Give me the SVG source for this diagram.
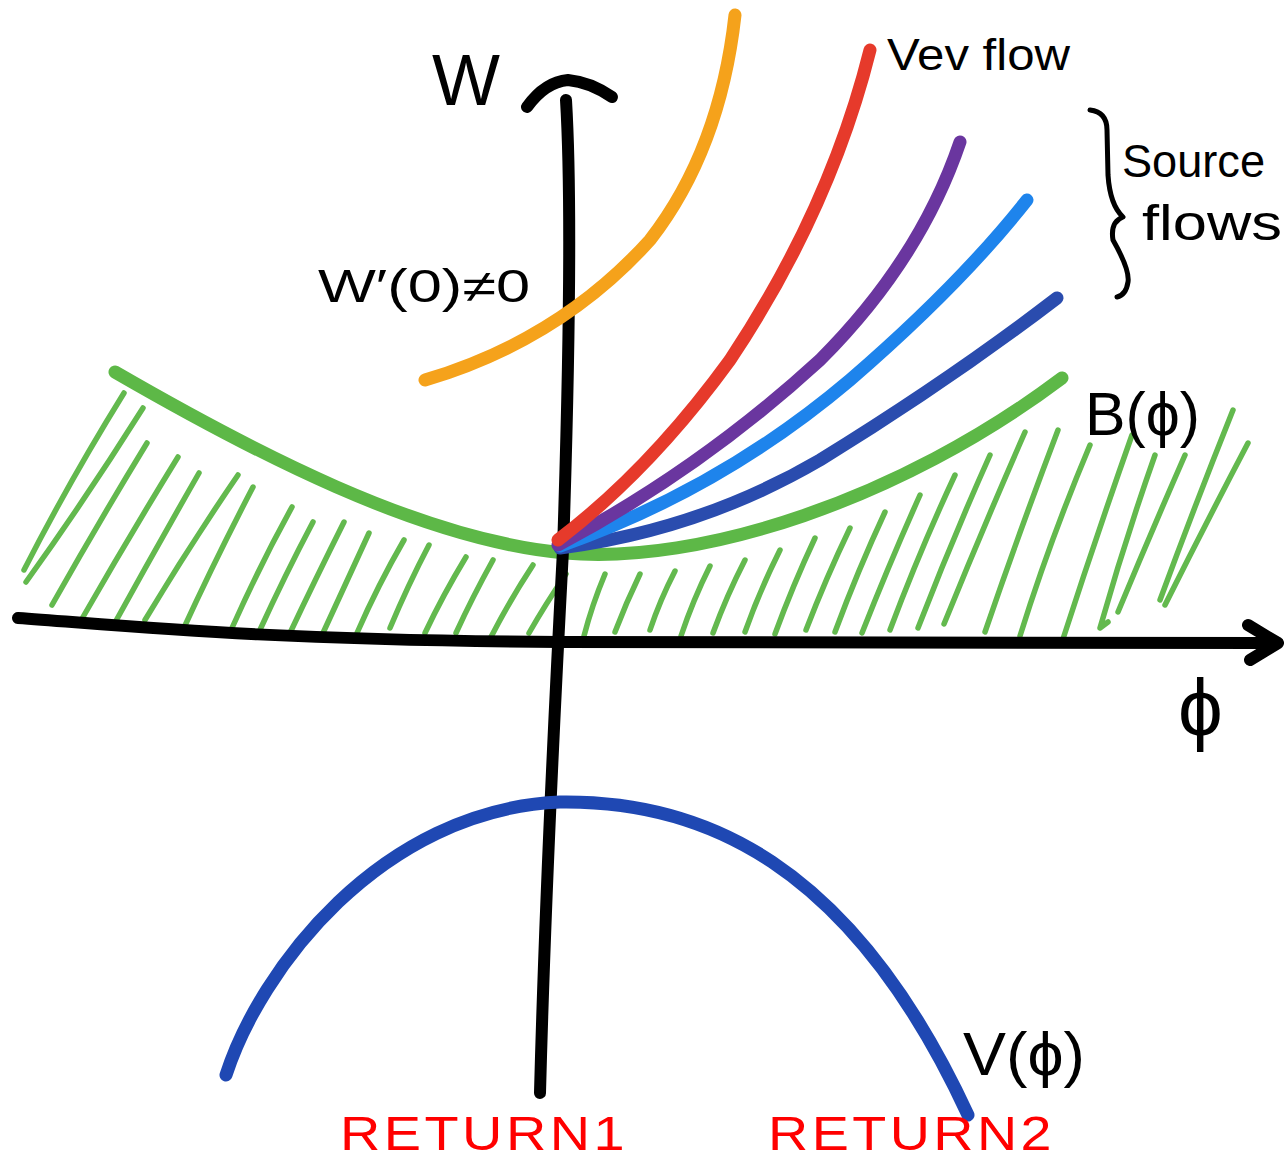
<svg xmlns="http://www.w3.org/2000/svg" width="1284" height="1161" viewBox="0 0 1284 1161">
<style>
.ink{fill:none;stroke-linecap:round;stroke-linejoin:round}
.axis{stroke:#000;stroke-width:12}
.hatch{stroke:#63b94e;stroke-width:5.5}
.curve{stroke-width:13}
.lbl{font-family:"Liberation Sans","DejaVu Sans",sans-serif;fill:#000}
.ret{font-family:"Liberation Sans","DejaVu Sans",sans-serif;fill:#ff0000;font-size:48px;letter-spacing:3px}
</style>
<rect width="1284" height="1161" fill="#fff"/>
<g id="hatching" class="ink hatch">
<path d="M124,393 Q70,480 24,570"/>
<path d="M143,408 Q85,500 26,582"/>
<path d="M147,443 Q100,520 52,605"/>
<path d="M178,457 Q130,535 83,617"/>
<path d="M199,473 Q155,550 112,628"/>
<path d="M238,475 Q190,545 145,620"/>
<path d="M253,487 Q215,560 182,632"/>
<path d="M292,507 Q260,565 232,628"/>
<path d="M313,522 Q285,575 259,632"/>
<path d="M344,522 Q315,580 290,633"/>
<path d="M369,533 Q345,585 323,633"/>
<path d="M404,540 Q378,585 357,633"/>
<path d="M429,545 Q408,585 390,628"/>
<path d="M466,557 Q443,595 425,633"/>
<path d="M493,560 Q472,598 456,633"/>
<path d="M533,565 Q510,600 491,637"/>
<path d="M566,574 Q545,605 529,633"/>
<path d="M605,574 Q592,605 584,636"/>
<path d="M640,574 Q626,603 615,632"/>
<path d="M675,571 Q660,600 650,630"/>
<path d="M710,566 Q693,600 681,636"/>
<path d="M745,560 Q727,595 713,633"/>
<path d="M780,550 Q760,590 745,632"/>
<path d="M815,538 Q793,585 775,634"/>
<path d="M850,528 Q826,578 806,630"/>
<path d="M885,512 Q858,570 835,632"/>
<path d="M920,495 Q890,562 862,633"/>
<path d="M955,475 Q920,550 890,630"/>
<path d="M990,455 Q952,540 918,628"/>
<path d="M1025,432 Q983,528 944,624"/>
<path d="M1058,430 Q1020,530 985,632"/>
<path d="M1090,445 Q1050,540 1020,636"/>
<path d="M1132,435 Q1095,540 1062,642"/>
<path d="M1155,455 Q1125,540 1100,628 L1108,622"/>
<path d="M1185,455 Q1150,535 1118,612"/>
<path d="M1233,410 Q1195,505 1160,600"/>
<path d="M1248,443 Q1205,525 1165,605"/>
</g>
<g id="B-curve" class="ink">
<path d="M115,372 C250,450 420,540 565,553 C700,565 900,500 1062,378" stroke="#5db847" stroke-width="13"/>
</g>
<g id="axes" class="ink axis">
<path d="M18,618 C120,625 250,640 560,642 L1268,643"/>
<path d="M1248,625 L1278,643 L1250,660"/>
<path d="M540,1093 C545,900 555,700 563,550 C568,400 572,200 566,100"/>
<path d="M527,107 Q545,82 568,80 Q590,82 612,97"/>
</g>
<g id="flows" class="ink curve">
<path id="orange" d="M425,380 Q560,340 650,240 Q720,150 735,15" stroke="#f5a21b"/>
<path id="darkblue" d="M560,548 Q700,530 820,460 Q950,380 1057,298" stroke="#2a4cae"/>
<path id="lightblue" d="M560,546 Q720,490 850,380 Q960,285 1027,200" stroke="#1e84ec"/>
<path id="purple" d="M558,545 Q700,470 820,360 Q920,260 960,142" stroke="#6a369f"/>
<path id="red" d="M558,540 Q650,470 730,360 Q830,210 870,50" stroke="#e63a2b"/>
</g>
<g id="V-curve" class="ink">
<path d="M226,1075 C260,970 380,810 560,802 C700,800 850,860 968,1115" stroke="#1f48b3" stroke-width="13"/>
</g>
<g id="brace" class="ink">
<path d="M1090,110 Q1107,112 1107,130 L1108,175 Q1110,205 1123,217 Q1110,222 1113,240 Q1130,270 1128,282 Q1126,295 1117,297" stroke="#000" stroke-width="5"/>
</g>
<g id="labels">
<text class="lbl" x="432" y="105" font-size="72">W</text>
<text class="lbl" x="318" y="302" font-size="46" textLength="212" lengthAdjust="spacingAndGlyphs">W′(0)≠0</text>
<text class="lbl" x="887" y="70" font-size="44" textLength="183" lengthAdjust="spacingAndGlyphs">Vev flow</text>
<text class="lbl" x="1122" y="177" font-size="46" textLength="143" lengthAdjust="spacingAndGlyphs">Source</text>
<text class="lbl" x="1142" y="240" font-size="50" textLength="140" lengthAdjust="spacingAndGlyphs">flows</text>
<text class="lbl" x="1085" y="435" font-size="62" textLength="115" lengthAdjust="spacingAndGlyphs">B(ϕ)</text>
<text class="lbl" x="1178" y="735" font-size="80">ϕ</text>
<text class="lbl" x="963" y="1075" font-size="62" textLength="122" lengthAdjust="spacingAndGlyphs">V(ϕ)</text>
<text class="ret" x="340" y="1150" textLength="288" lengthAdjust="spacingAndGlyphs">RETURN1</text>
<text class="ret" x="768" y="1150" textLength="287" lengthAdjust="spacingAndGlyphs">RETURN2</text>
</g>
</svg>
